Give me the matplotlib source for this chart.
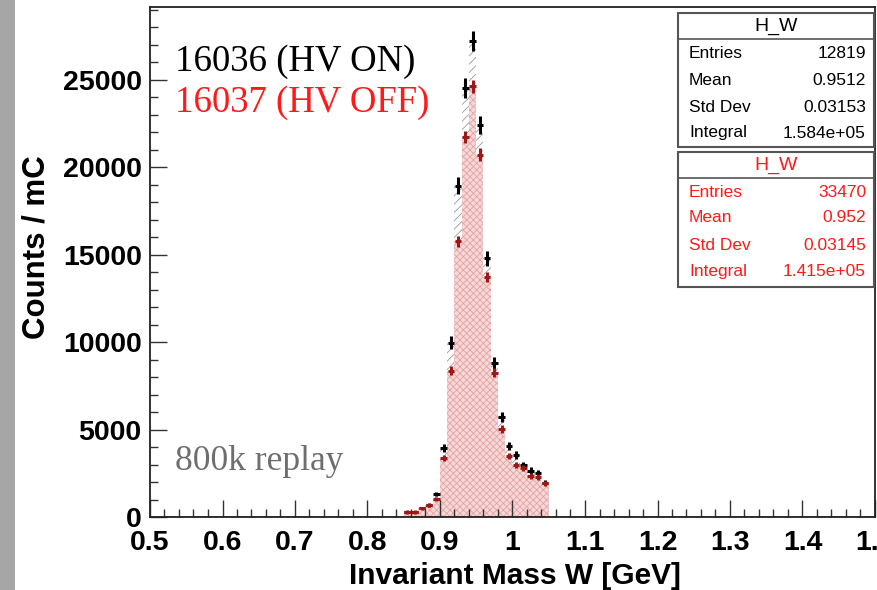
import numpy as np
import matplotlib
matplotlib.use("Agg")
import matplotlib.pyplot as plt
from matplotlib.patches import Rectangle
from matplotlib.ticker import MultipleLocator, FuncFormatter

# bin centres of H_W (0.01 GeV bins)
w_centers = [0.855, 0.865, 0.875, 0.885, 0.895, 0.905, 0.915, 0.925, 0.935, 0.945,
             0.955, 0.965, 0.975, 0.985, 0.995, 1.005, 1.015, 1.025, 1.035, 1.045]

# run 16036 (HV ON), counts / mC
hv_on = [303, 303, 515, 686, 1316, 3950, 9970, 18930, 24520, 27190,
         22420, 14800, 8810, 5720, 4080, 3550, 2950, 2650, 2530, 1960]

# run 16037 (HV OFF), counts / mC
hv_off = [286, 286, 486, 658, 1030, 3380, 8370, 15750, 21720, 24610,
          20710, 13710, 8250, 5030, 3490, 2970, 2820, 2350, 2300, 1930]

stats_on = [("Entries", "12819"), ("Mean", "0.9512"), ("Std Dev", "0.03153"), ("Integral", "1.584e+05")]
stats_off = [("Entries", "33470"), ("Mean", "0.952"), ("Std Dev", "0.03145"), ("Integral", "1.415e+05")]

W, H = 878, 590
plt.rcParams['hatch.linewidth'] = 0.6
fig = plt.figure(figsize=(W / 100, H / 100), dpi=100)
ax = fig.add_axes([150 / W, (H - 517) / H, 725 / W, 510 / H])

centers = np.array(w_centers)
edges = np.append(centers - 0.005, centers[-1] + 0.005)
on = np.array(hv_on, dtype=float)
off = np.array(hv_off, dtype=float)
# statistical errors: sqrt(N) scaled by integral / entries
err_on = np.sqrt(on * 1.584e5 / 12819)
err_off = np.sqrt(off * 1.415e5 / 33470)

ax.stairs(on, edges, fill=True, facecolor='white', edgecolor='#9a9a9a', hatch='////', lw=0)
ax.stairs(off, edges, fill=True, facecolor='#f5d8d8', edgecolor='#e8a2a2', hatch='xxxxx', lw=0)
ax.axhline(0, color='#e07070', lw=1.2, zorder=1)

ax.errorbar(centers, on, yerr=err_on, xerr=0.0045, fmt='none', ecolor='black', elinewidth=2.2, zorder=4)
ax.errorbar(centers, off, yerr=err_off + 60, xerr=0.0045, fmt='none', ecolor='#9e1818', elinewidth=2.2, zorder=5)

ax.set_xlim(0.5, 1.5)
ax.set_ylim(0, 29150)

lab_font = dict(family='Liberation Sans', weight='bold')
ax.xaxis.set_major_locator(MultipleLocator(0.1))
ax.xaxis.set_minor_locator(MultipleLocator(0.02))
ax.yaxis.set_major_locator(MultipleLocator(5000))
ax.yaxis.set_minor_locator(MultipleLocator(1000))
ax.xaxis.set_major_formatter(FuncFormatter(lambda v, p: '%g' % round(v, 2)))
ax.yaxis.set_major_formatter(FuncFormatter(lambda v, p: '%d' % v))
ax.tick_params(which='both', direction='in', top=False, right=False, color='#333333', width=1)
ax.tick_params(which='major', length=12)
ax.tick_params(which='minor', length=6)
ax.tick_params(axis='x', which='major', pad=9)
ax.tick_params(axis='y', which='major', pad=6)
for t in ax.get_xticklabels() + ax.get_yticklabels():
    t.set_fontproperties(lab_font)
    t.set_fontsize(20.5)
for s in ax.spines.values():
    s.set_linewidth(1.3)
    s.set_color('#222222')

ax.set_xlabel("Invariant Mass W [GeV]", fontsize=21.5, **lab_font)
ax.set_ylabel("Counts / mC", fontsize=22.5, **lab_font)
ax.xaxis.set_label_coords((515 - 150) / 725, -(562 - 517) / 510)
ax.yaxis.set_label_coords(-(150 - 52) / 725, (517 - 247) / 510)

# legend-like annotations
serif = ['Liberation Serif', 'DejaVu Serif']
fig.text(175 / W, (H - 71) / H, "16036 (HV ON)", color='black', fontsize=26.5, family=serif, va='baseline')
fig.text(175 / W, (H - 112) / H, "16037 (HV OFF)", color='#ff1a1a', fontsize=26.5, family=serif, va='baseline')
fig.text(175 / W, (H - 470) / H, "800k replay", color='#6e6e6e', fontsize=25.5, family=serif, va='baseline')

# ROOT style stat boxes
def stat_box(top, bottom, sep, title_y, rows_y, rows, color):
    fig.patches.append(Rectangle((678 / W, (H - bottom) / H), (874 - 678) / W, (bottom - top) / H,
                                 transform=fig.transFigure, facecolor='white', edgecolor='#555555', lw=1.5))
    fig.add_artist(plt.Line2D([678 / W, 874 / W], [(H - sep) / H] * 2, transform=fig.transFigure,
                              color='#555555', lw=1.2))
    fig.text(776 / W, (H - title_y) / H, "H_W", color=color, fontsize=14, family='Liberation Sans',
             ha='center', va='center')
    for (name, val), y in zip(rows, rows_y):
        fig.text(689 / W, (H - y) / H, name, color=color, fontsize=12.5, family='Liberation Sans', va='center')
        fig.text(866 / W, (H - y) / H, val, color=color, fontsize=12.5, family='Liberation Sans',
                 va='center', ha='right')

stat_box(13, 147, 39, 26, [54, 81, 107, 133], stats_on, 'black')
stat_box(152, 287, 178, 165, [193, 218, 246, 272], stats_off, '#ff1a1a')

# grey slide strip on the left
fig.patches.append(Rectangle((0, 0), 15 / W, 1, transform=fig.transFigure, facecolor='#a6a6a6', lw=0))

fig.savefig("out.png", dpi=100)
